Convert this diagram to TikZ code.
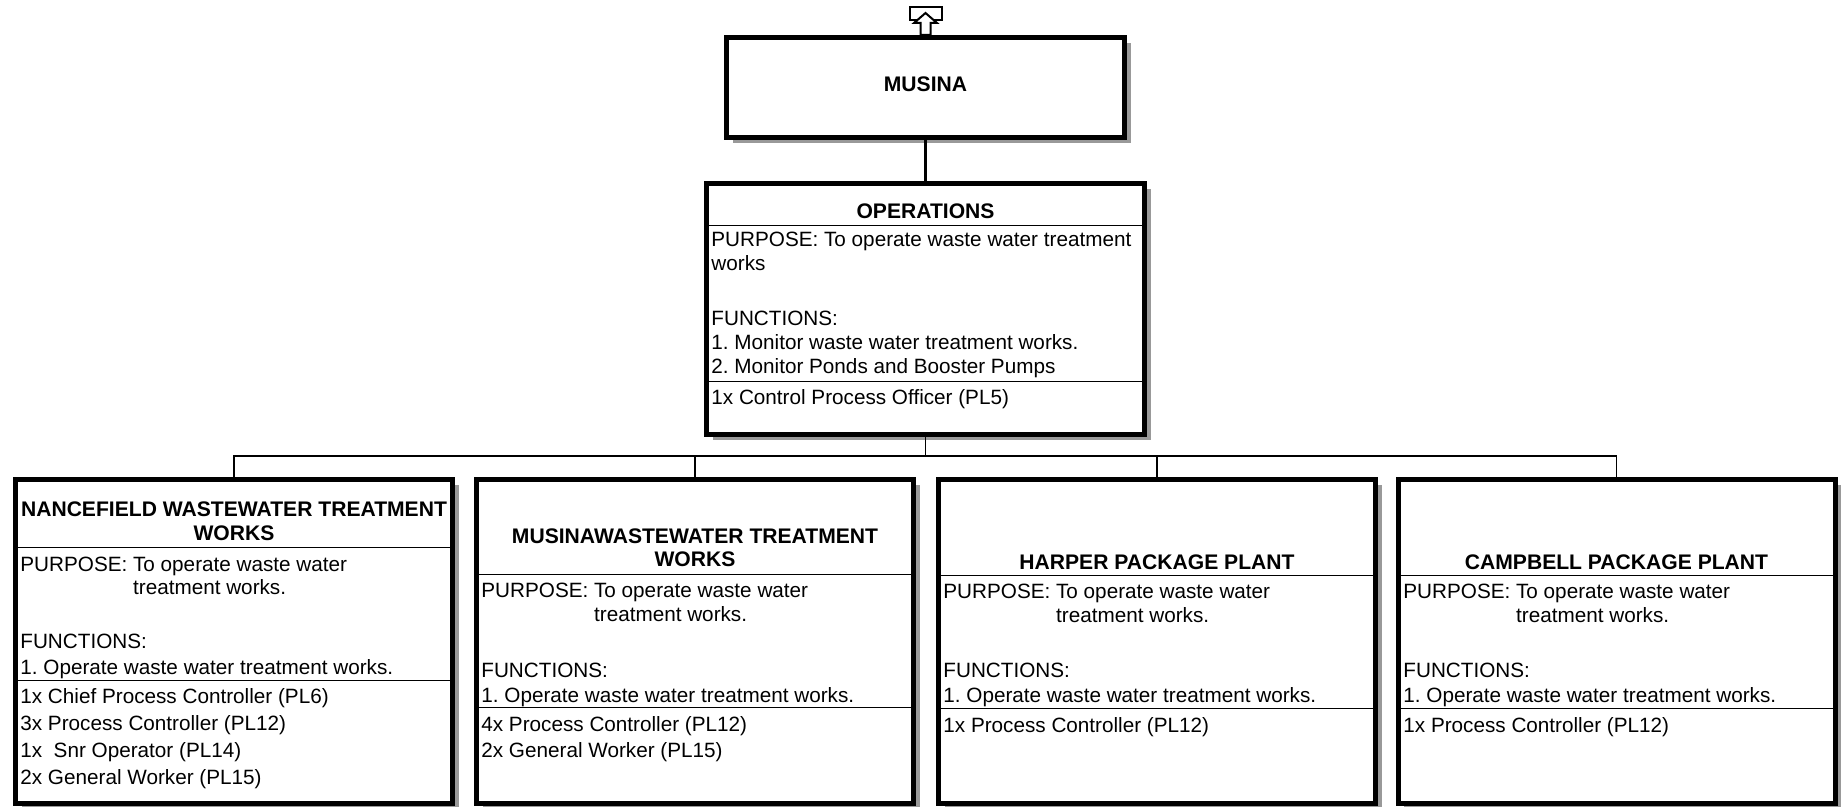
\documentclass[tikz,border=0pt]{standalone}
\usepackage{fontspec}
\setmainfont{Liberation Sans}
\usetikzlibrary{shadows}
\tikzset{
  orgbox/.style={draw, line width=2.5pt, fill=white, inner sep=0pt, outer sep=0pt, rectangle,
    drop shadow={shadow xshift=3pt, shadow yshift=-3pt, fill=black!40, opacity=1}},
  lowbox/.style={orgbox, minimum width=218.5pt, minimum height=162pt},
  ttl/.style={font=\fontsize{10.55}{12}\selectfont\bfseries\frenchspacing, anchor=base, inner sep=0pt},
  txt/.style={font=\fontsize{10.35}{12}\selectfont\frenchspacing, anchor=base west, inner sep=0pt},
  divider/.style={line width=0.5pt},
  conn/.style={line width=0.75pt},
}
\newcommand{\pind}{\phantom{PURPOSE: }}
\begin{document}
\frenchspacing
\begin{tikzpicture}[x=0.5pt,y=-0.5pt]
\useasboundingbox (0,0) rectangle (1843,807);

% boxes
\node[orgbox, minimum width=199pt, minimum height=50pt] (musina) at (925.5,87.5) {};
\node[orgbox, minimum width=219pt, minimum height=125.5pt] (ops) at (925.5,309) {};
\node[lowbox] (b1) at (234,641.5) {};
\node[lowbox] (b2) at (695,641.5) {};
\node[lowbox] (b3) at (1157,641.5) {};
\node[lowbox] (b4) at (1616.5,641.5) {};

% top icon
\node[draw, line width=1pt, fill=white, minimum width=16pt, minimum height=6.5pt, inner sep=0pt] (icon) at (926,13.5) {};
\draw[line width=1pt, fill=white] (925.5,13) -- (937,23) -- (930.5,23) -- (930.5,35) -- (920.5,35) -- (920.5,23) -- (914,23) -- cycle;

% connectors
\draw[line width=1.5pt] (musina.south) -- (ops.north);
\coordinate (bus) at (925.5,456);
\draw[conn] (ops.south) -- (bus);
\foreach \b in {b1,b2,b3,b4} \draw[conn] (\b.north) |- (bus);

% dividers
\draw[divider] (706.5,226) -- (1144.5,226);
\draw[divider] (706.5,382) -- (1144.5,382);
\draw[divider] (15.5,548) -- (452.5,548);
\draw[divider] (15.5,680) -- (452.5,680);
\draw[divider] (476.5,575) -- (913.5,575);
\draw[divider] (476.5,707) -- (913.5,707);
\draw[divider] (938.5,576) -- (1375.5,576);
\draw[divider] (938.5,708) -- (1375.5,708);
\draw[divider] (1398,576) -- (1835,576);
\draw[divider] (1398,708) -- (1835,708);

% MUSINA
\node[ttl] (tMus) at (925.5,92) {MUSINA};

% OPERATIONS
\node[ttl] (tOps) at (925.5,219) {OPERATIONS};
\node[txt] (o1) at (711,247) {PURPOSE: To operate waste water treatment};
\node[txt] (o2) at (711,271) {works};
\node[txt] (o3) at (711,326) {FUNCTIONS:};
\node[txt] (o4) at (711,350) {1. Monitor waste water treatment works.};
\node[txt] (o5) at (711,374) {2. Monitor Ponds and Booster Pumps};
\node[txt] (o6) at (711,405) {1x Control Process Officer (PL5)};

% Box 1
\node[ttl] (t1a) at (234,517) {NANCEFIELD WASTEWATER TREATMENT};
\node[ttl] (t1b) at (234,541) {WORKS};
\node[txt] (a1) at (20,572) {PURPOSE: To operate waste water};
\node[txt] (a2) at (20,595) {\pind treatment works.};
\node[txt] (a3) at (20,648) {FUNCTIONS:};
\node[txt] (a4) at (20,674) {1. Operate waste water treatment works.};
\node[txt] (a5) at (20,703) {1x Chief Process Controller (PL6)};
\node[txt] (a6) at (20,730) {3x Process Controller (PL12)};
\node[txt] (a7) at (20,757) {1x\ \ Snr Operator (PL14)};
\node[txt] (a8) at (20,784) {2x General Worker (PL15)};

% Box 2
\node[ttl] (t2a) at (695,544) {MUSINAWASTEWATER TREATMENT};
\node[ttl] (t2b) at (695,567) {WORKS};
\node[txt] (c1) at (481,597) {PURPOSE: To operate waste water};
\node[txt] (c2) at (481,622) {\pind treatment works.};
\node[txt] (c3) at (481,677) {FUNCTIONS:};
\node[txt] (c4) at (481,702) {1. Operate waste water treatment works.};
\node[txt] (c5) at (481,731) {4x Process Controller (PL12)};
\node[txt] (c6) at (481,757) {2x General Worker (PL15)};

% Box 3
\node[ttl] (t3) at (1157,570) {HARPER PACKAGE PLANT};
\node[txt] (d1) at (943,598) {PURPOSE: To operate waste water};
\node[txt] (d2) at (943,623) {\pind treatment works.};
\node[txt] (d3) at (943,677) {FUNCTIONS:};
\node[txt] (d4) at (943,702) {1. Operate waste water treatment works.};
\node[txt] (d5) at (943,732) {1x Process Controller (PL12)};

% Box 4
\node[ttl] (t4) at (1616.5,570) {CAMPBELL PACKAGE PLANT};
\node[txt] (e1) at (1403,598) {PURPOSE: To operate waste water};
\node[txt] (e2) at (1403,623) {\pind treatment works.};
\node[txt] (e3) at (1403,677) {FUNCTIONS:};
\node[txt] (e4) at (1403,702) {1. Operate waste water treatment works.};
\node[txt] (e5) at (1403,732) {1x Process Controller (PL12)};
\end{tikzpicture}
\end{document}
